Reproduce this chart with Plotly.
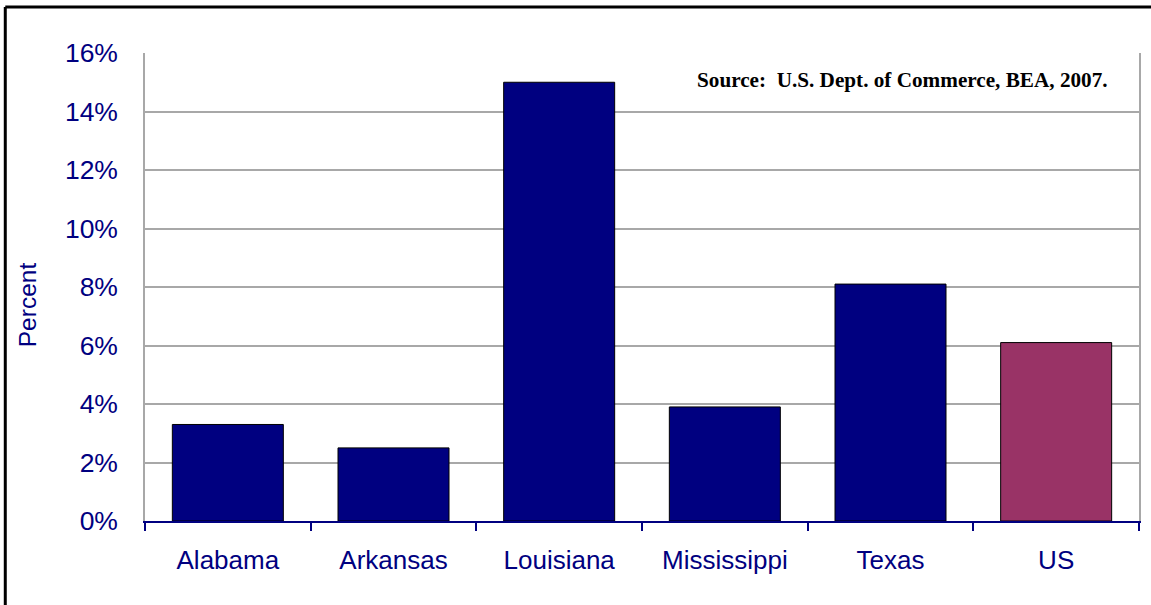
import plotly.graph_objects as go

categories = ["Alabama", "Arkansas", "Louisiana", "Mississippi", "Texas", "US"]
values = [3.3, 2.5, 15.0, 3.9, 8.1, 6.1]
bar_colors = ["#000080", "#000080", "#000080", "#000080", "#000080", "#993366"]
y_ticks = [0, 2, 4, 6, 8, 10, 12, 14, 16]
y_tick_labels = [f"{v}%" for v in y_ticks]
source_text = "Source:  U.S. Dept. of Commerce, BEA, 2007."
y_title = "Percent"

navy = "#000080"
W, H = 1151, 605
L, R, T, B = 145, 10, 53, 84
PW, PH = W - L - R, H - T - B

def px(x):
    return (x - L) / PW

def py(y):
    return (H - B - y) / PH

fig = go.Figure()
fig.add_trace(go.Bar(
    x=categories, y=values,
    marker=dict(color=bar_colors, line=dict(color="#000000", width=1)),
    width=0.67,
    hoverinfo="x+y",
))

fig.update_layout(
    width=W, height=H,
    margin=dict(l=L, r=R, t=T, b=B),
    paper_bgcolor="white", plot_bgcolor="white",
    showlegend=False,
    font=dict(family="Liberation Sans, Arial, sans-serif", color=navy, size=26),
    xaxis=dict(
        type="category",
        showline=True, linecolor=navy, linewidth=1.5,
        ticks="outside", tickson="boundaries", ticklen=8, tickcolor=navy, tickwidth=1.5,
        tickfont=dict(size=26, color=navy),
        ticklabelstandoff=15,
        showgrid=False,
    ),
    yaxis=dict(
        range=[0, 16], tickvals=y_ticks, ticktext=y_tick_labels,
        showgrid=True, gridcolor="#a8a8a8", gridwidth=1.5,
        showline=True, linecolor="#a8a8a8", linewidth=1.5, mirror=True,
        ticks="", ticklabelstandoff=20,
        tickfont=dict(size=26.5, color=navy),
        zeroline=False,
    ),
    shapes=[
        dict(type="line", xref="paper", yref="paper",
             x0=px(5), x1=px(1160), y0=py(7), y1=py(7),
             line=dict(color="black", width=3)),
        dict(type="line", xref="paper", yref="paper",
             x0=px(5), x1=px(5), y0=py(7), y1=py(615),
             line=dict(color="black", width=3)),
    ],
    annotations=[
        dict(
            text=f"<b>{source_text}</b>", xref="paper", yref="paper",
            x=px(1112), y=py(80), xanchor="right", yanchor="middle",
            showarrow=False,
            font=dict(family="Liberation Serif, Times New Roman, serif", size=21.2, color="black"),
        ),
        dict(
            text=y_title, xref="paper", yref="paper",
            x=px(27), y=py(305), xanchor="center", yanchor="middle",
            textangle=-90, showarrow=False,
            font=dict(size=24.5, color=navy),
        ),
    ],
)

fig.write_html(
    "out.html",
    config={"displayModeBar": False},
    post_script="document.body.style.margin='0';document.body.style.overflow='hidden';",
)
